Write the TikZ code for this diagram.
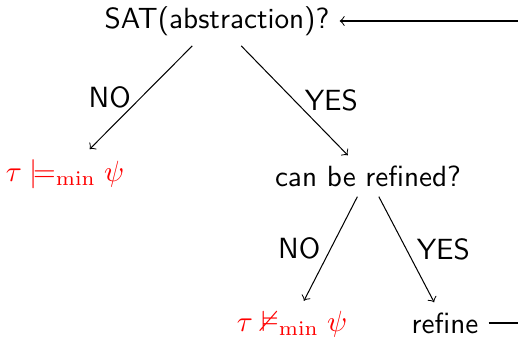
\documentclass[tikz,border=0pt]{standalone}
\renewcommand{\familydefault}{\sfdefault}
\usepackage{amssymb}
\usepackage{xcolor}

\begin{document}
\begin{tikzpicture}[x=0.3425pt, y=-0.3425pt, >=to, line width=0.35pt]

  %% ════ 结点 ════
  \node (sat)     at (217,21)  {SAT(abstraction)?};
  \node[red] (valid)   at (65,174)  {$\tau \models_{\min} \psi$};
  \node (canref)  at (368,176) {can be refined?};
  \node[red] (invalid) at (292,324) {$\tau \nvDash_{\min} \psi$};
  \node (refine)  at (445,323) {refine};

  %% ════ 回路的两端（被画布右边截断）════
  \coordinate (looptop) at (518,21);
  \coordinate (loopbot) at (518,323);

  %% ════ 连线 ════
  \draw[->] (sat) -- node[left] {NO} (valid);
  \draw[->] (sat) -- node[right] {YES} (canref);
  \draw[->] (canref) -- node[left] {NO} (invalid);
  \draw[->] (canref) -- node[right] {YES} (refine);
  \draw (refine.east) -- (loopbot);
  \draw[->] (looptop) -- (sat.east);

  % 钉死画布
  \pgfresetboundingbox
  \path[use as bounding box] (0,0) rectangle (518,337);
\end{tikzpicture}
\end{document}
